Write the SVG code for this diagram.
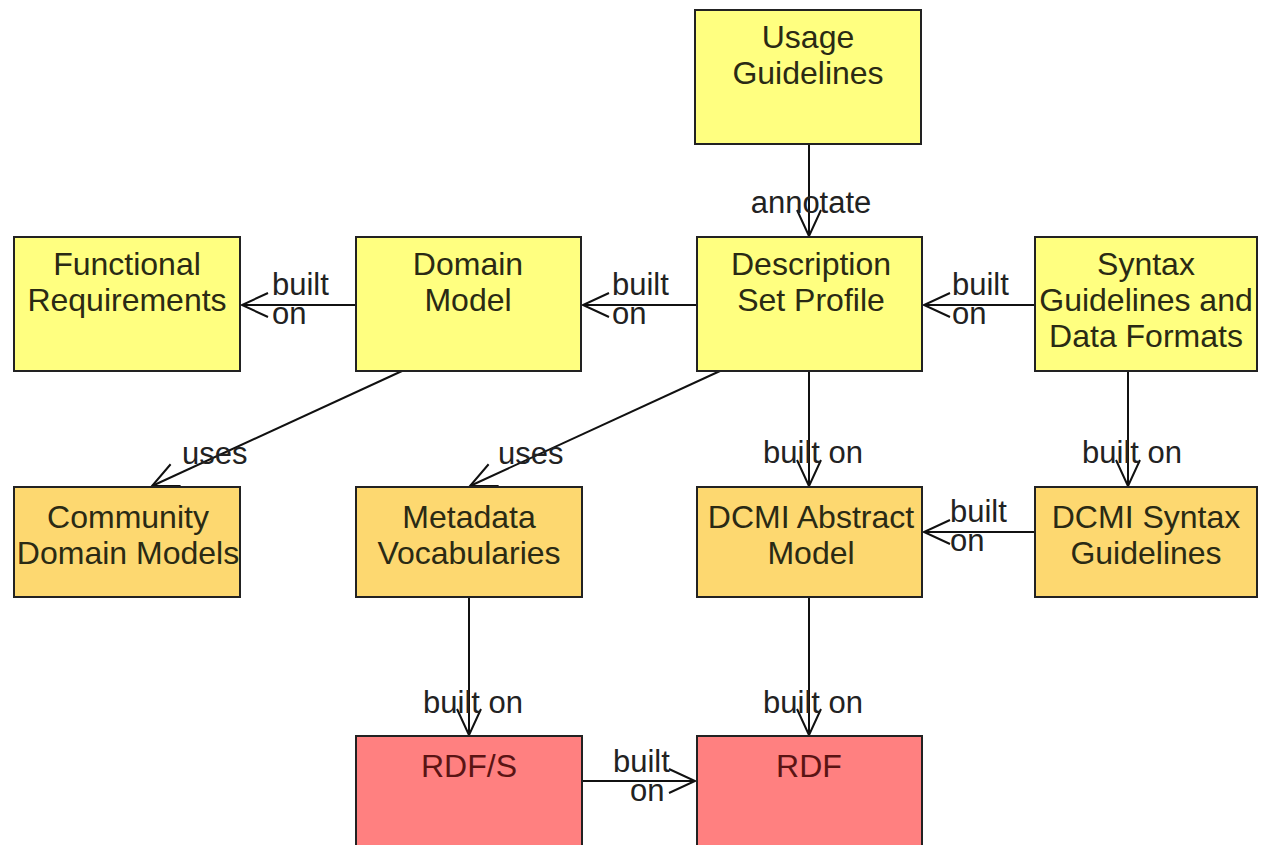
<svg xmlns="http://www.w3.org/2000/svg" width="1261" height="845" viewBox="0 0 1261 845">
<style>
.box{stroke:#222;stroke-width:2}
.y{fill:#ffff80}
.o{fill:#fdd870}
.r{fill:#ff8080}
.t{font-family:"Liberation Sans",Arial,sans-serif;font-size:32px;fill:#2a2a14;text-anchor:middle}
.tr{fill:#5a1414}
.lb{font-family:"Liberation Sans",Arial,sans-serif;font-size:31px;fill:#222}
.c{stroke:#111;stroke-width:2;fill:none;marker-end:url(#arr)}
</style>
<defs>
<marker id="arr" markerUnits="userSpaceOnUse" orient="auto" markerWidth="32" markerHeight="32" viewBox="-29 -16 32 32" refX="0" refY="0">
<path d="M-26,-12 L0,0 L-26,12" fill="none" stroke="#111" stroke-width="2"/>
</marker>
</defs>
<rect width="1261" height="845" fill="#fff"/>
<g id="connectors">
<line class="c" x1="809" y1="144" x2="809" y2="236"/>
<text class="lb" x="811" y="213" text-anchor="middle">annotate</text>
<line class="c" x1="356" y1="305" x2="242" y2="305"/>
<text class="lb" x="272" y="295">built</text>
<text class="lb" x="272" y="324">on</text>
<line class="c" x1="697" y1="305" x2="583" y2="305"/>
<text class="lb" x="612" y="295">built</text>
<text class="lb" x="612" y="324">on</text>
<line class="c" x1="1035" y1="305" x2="924" y2="305"/>
<text class="lb" x="952" y="295">built</text>
<text class="lb" x="952" y="324">on</text>
<line class="c" x1="402" y1="371" x2="152" y2="486"/>
<text class="lb" x="182" y="464">uses</text>
<line class="c" x1="720" y1="371" x2="470" y2="486"/>
<text class="lb" x="498" y="464">uses</text>
<line class="c" x1="809" y1="371" x2="809" y2="486"/>
<text class="lb" x="813" y="463" text-anchor="middle">built on</text>
<line class="c" x1="1128" y1="371" x2="1128" y2="486"/>
<text class="lb" x="1132" y="463" text-anchor="middle">built on</text>
<line class="c" x1="1035" y1="532" x2="924" y2="532"/>
<text class="lb" x="950" y="522">built</text>
<text class="lb" x="950" y="551">on</text>
<line class="c" x1="469" y1="597" x2="469" y2="735"/>
<text class="lb" x="473" y="713" text-anchor="middle">built on</text>
<line class="c" x1="809" y1="597" x2="809" y2="735"/>
<text class="lb" x="813" y="713" text-anchor="middle">built on</text>
<line class="c" x1="582" y1="781" x2="695" y2="781"/>
<text class="lb" x="613" y="772">built</text>
<text class="lb" x="630" y="801">on</text>
</g>
<g id="usage-guidelines">
<rect class="box y" x="695" y="10" width="226" height="134"/>
<text class="t" x="808" y="48">Usage</text>
<text class="t" x="808" y="84">Guidelines</text>
</g>
<g id="functional-requirements">
<rect class="box y" x="14" y="237" width="226" height="134"/>
<text class="t" x="127" y="275">Functional</text>
<text class="t" x="127" y="311">Requirements</text>
</g>
<g id="domain-model">
<rect class="box y" x="356" y="237" width="225" height="134"/>
<text class="t" x="468" y="275">Domain</text>
<text class="t" x="468" y="311">Model</text>
</g>
<g id="description-set-profile">
<rect class="box y" x="697" y="237" width="225" height="134"/>
<text class="t" x="811" y="275">Description</text>
<text class="t" x="811" y="311">Set Profile</text>
</g>
<g id="syntax-guidelines">
<rect class="box y" x="1035" y="237" width="222" height="134"/>
<text class="t" x="1146" y="275">Syntax</text>
<text class="t" x="1146" y="311">Guidelines and</text>
<text class="t" x="1146" y="347">Data Formats</text>
</g>
<g id="community-domain-models">
<rect class="box o" x="14" y="487" width="226" height="110"/>
<text class="t" x="128" y="528">Community</text>
<text class="t" x="128" y="564">Domain Models</text>
</g>
<g id="metadata-vocabularies">
<rect class="box o" x="356" y="487" width="226" height="110"/>
<text class="t" x="469" y="528">Metadata</text>
<text class="t" x="469" y="564">Vocabularies</text>
</g>
<g id="dcmi-abstract-model">
<rect class="box o" x="697" y="487" width="225" height="110"/>
<text class="t" x="811" y="528">DCMI Abstract</text>
<text class="t" x="811" y="564">Model</text>
</g>
<g id="dcmi-syntax-guidelines">
<rect class="box o" x="1035" y="487" width="222" height="110"/>
<text class="t" x="1146" y="528">DCMI Syntax</text>
<text class="t" x="1146" y="564">Guidelines</text>
</g>
<g id="rdfs">
<rect class="box r" x="356" y="736" width="226" height="120"/>
<text class="t tr" x="469" y="777">RDF/S</text>
</g>
<g id="rdf">
<rect class="box r" x="697" y="736" width="225" height="120"/>
<text class="t tr" x="809" y="777">RDF</text>
</g>
</svg>
